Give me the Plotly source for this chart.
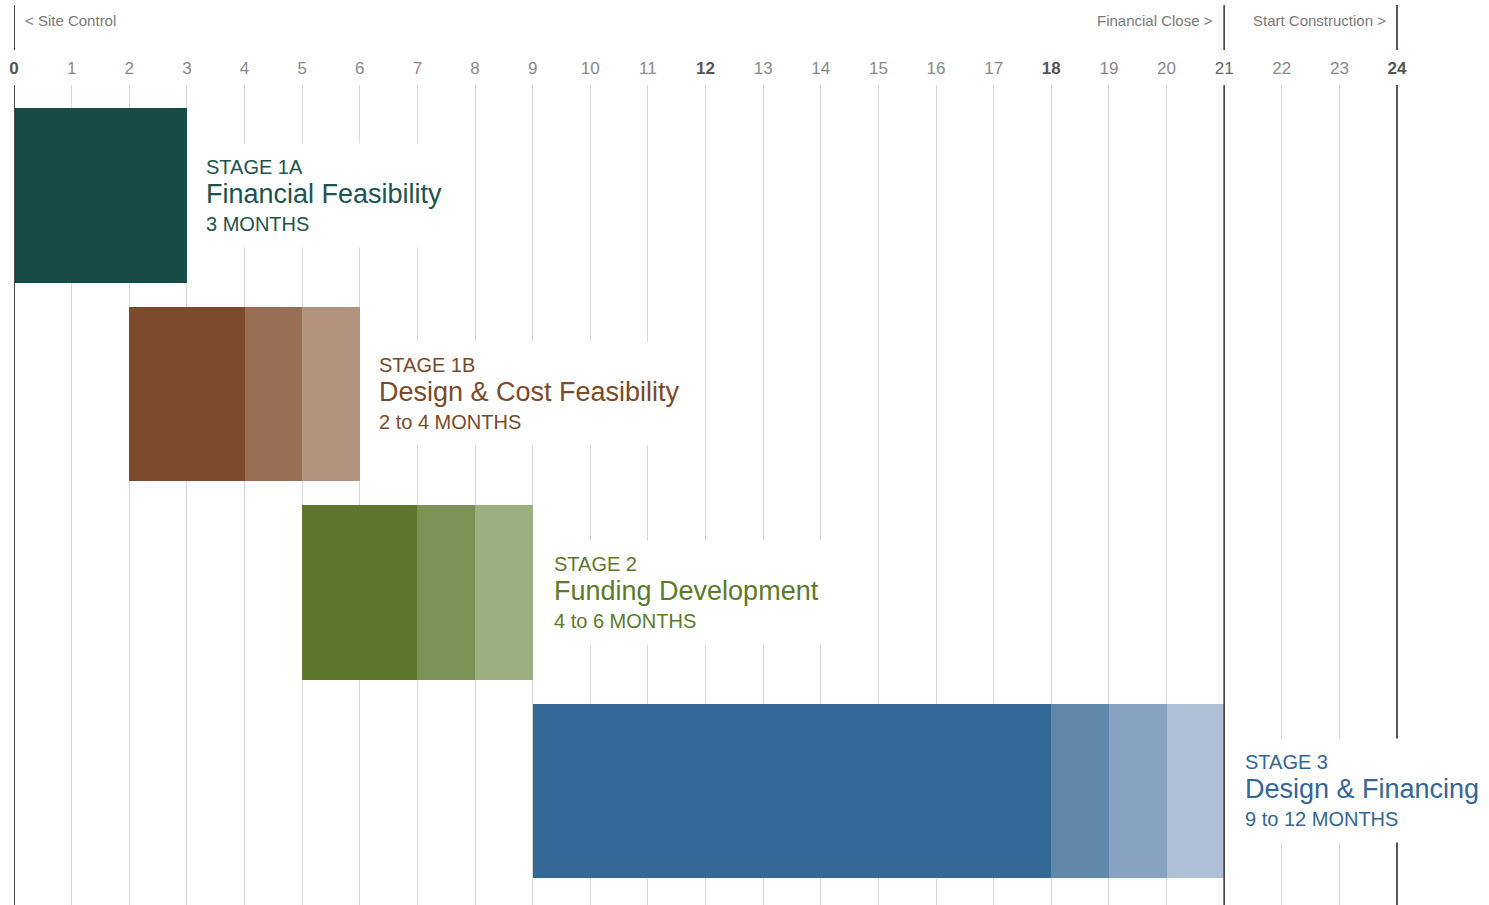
import plotly.graph_objects as go

# ---------------- data ----------------
months = list(range(0, 25))
bold_months = [0, 12, 18, 24]

stage_labels = ["STAGE 1A", "STAGE 1B", "STAGE 2", "STAGE 3"]
stage_titles = ["Financial Feasibility", "Design & Cost Feasibility",
                "Funding Development", "Design & Financing"]
stage_durations = ["3 MONTHS", "2 to 4 MONTHS", "4 to 6 MONTHS", "9 to 12 MONTHS"]
stage_end = [3, 6, 9, 21]

seg_stage = [0, 1, 1, 1, 2, 2, 2, 3, 3, 3, 3]
seg_start = [0, 2, 4, 5, 5, 7, 8, 9, 18, 19, 20]
seg_end = [3, 4, 5, 6, 7, 8, 9, 18, 19, 20, 21]

milestones = ["< Site Control", "Financial Close >", "Start Construction >"]
milestone_month = [0, 21, 24]

# ---------------- styles ----------------
seg_colors = ["#174c46",
              "#7c4b2c", "#986f55", "#b1937e",
              "#5d772c", "#7b9257", "#9caf81",
              "#356894", "#6088ab", "#87a3c1", "#aec0d5"]
text_colors = ["#1b5450", "#7a4a2a", "#5b7a2a", "#336699"]

FONT = "Liberation Sans, Arial, sans-serif"

fig = go.Figure()

for s, a, b, c in zip(seg_stage, seg_start, seg_end, seg_colors):
    fig.add_trace(go.Bar(
        y=[s], x=[b - a], base=[a], orientation="h",
        marker=dict(color=c, line=dict(width=0)),
        width=0.88, showlegend=False, hoverinfo="skip",
    ))

# tick labels
ticktext = []
for m in months:
    if m in bold_months:
        ticktext.append(f"<b><span style='color:#555555'>{m}</span></b>")
    elif m == 21:
        ticktext.append(f"<span style='color:#666666'>{m}</span>")
    else:
        ticktext.append(str(m))

fig.update_layout(
    width=1489, height=905,
    margin=dict(l=14, r=0, t=85, b=0),
    paper_bgcolor="white", plot_bgcolor="white",
    barmode="overlay", bargap=0,
    font=dict(family=FONT, color="#888888"),
    xaxis=dict(
        side="top", range=[0, 1475 / 57.625],
        tickmode="array", tickvals=months, ticktext=ticktext,
        showgrid=True, gridcolor="#d9d9d9", gridwidth=1,
        zeroline=False, showline=False, ticks="",
        tickfont=dict(size=17, color="#8a8a8a", family=FONT),
        ticklabelstandoff=7,
    ),
    yaxis=dict(range=[3.575, -0.556], visible=False, showgrid=False),
)

# dark milestone lines (plot part + header part)
line_styles = {0: ("#4a4a4a", 2), 21: ("#333333", 1.5), 24: ("#555555", 2)}
for m in milestone_month:
    col, w = line_styles[m]
    fig.add_shape(type="line", xref="x", yref="paper", x0=m, x1=m, y0=0, y1=1,
                  line=dict(color=col, width=w), layer="above")
    fig.add_shape(type="line", xref="x", yref="paper", x0=m, x1=m,
                  y0=1 + 35 / 820, y1=1 + 80 / 820,
                  line=dict(color=col, width=w), layer="above")

# milestone labels
hdr_y = 1 + 64 / 820
anchors = ["left", "right", "right"]
shifts = [9, -9, -9]
for lbl, m, anc, sh in zip(milestones, milestone_month, anchors, shifts):
    fig.add_annotation(x=m, y=hdr_y, xref="x", yref="paper",
                       text=lbl, showarrow=False, xanchor=anc, yanchor="middle",
                       xshift=sh, font=dict(size=15, color="#7a7a7a", family=FONT))

# stage labels with white boxes
xshifts = [6, 6, 8, 8]
for i in range(4):
    txt = (f"<span style='font-size:20px'>{stage_labels[i]}</span><br>"
           f"<span style='font-size:27px'>{stage_titles[i]}</span><br>"
           f"<span style='font-size:20px'>{stage_durations[i]}</span>")
    fig.add_annotation(x=stage_end[i], y=i, xref="x", yref="y",
                       text=txt, showarrow=False, xanchor="left", yanchor="middle",
                       align="left", xshift=xshifts[i], bgcolor="white", borderpad=12,
                       font=dict(size=22, color=text_colors[i], family=FONT))

fig.write_html("out.html")
